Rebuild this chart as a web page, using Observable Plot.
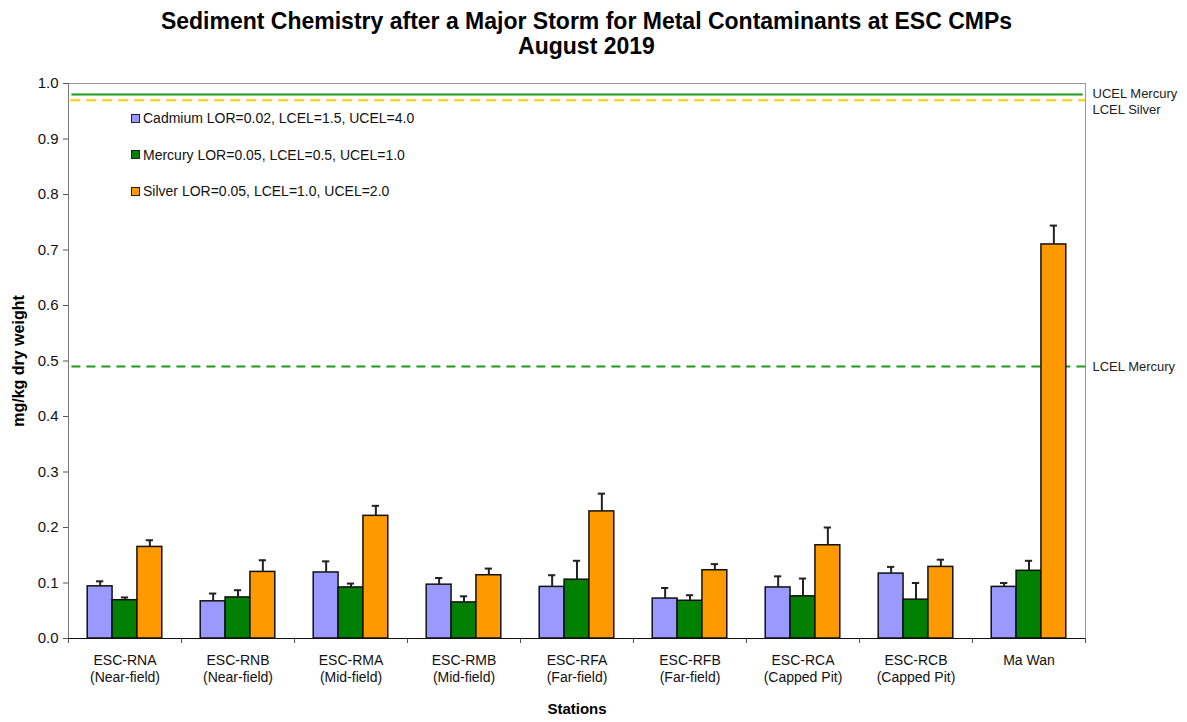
<!DOCTYPE html>
<html>
<head>
<meta charset="utf-8">
<script src="https://cdn.jsdelivr.net/npm/d3@7"></script>
<script src="https://cdn.jsdelivr.net/npm/@observablehq/plot@0.6"></script>
<style>
  body { margin: 0; background: #fff; font-family: Arial, "Liberation Sans", sans-serif; }
  #wrap { position: relative; width: 1187px; height: 722px; }
  #title { height: 60px; box-sizing: border-box; padding-top: 9px; text-align: center;
           font-weight: bold; font-size: 23px; line-height: 25px; color: #000; width: 1173px; }
  #legend { position: absolute; left: 131px; top: 109px; font-size: 14px; color: #111; }
  .item { display: flex; align-items: center; height: 18px; margin-bottom: 18.5px; }
  .sw { width: 7px; height: 7px; border: 1px solid #222; margin-right: 3px; }
</style>
</head>
<body>
<div id="wrap">
  <div id="title">Sediment Chemistry after a Major Storm for Metal Contaminants at ESC CMPs<br>August 2019</div>
  <div id="chart"></div>
  <div id="legend"></div>
</div>
<script>
// ---- data ----
const stations = ["ESC-RNA", "ESC-RNB", "ESC-RMA", "ESC-RMB", "ESC-RFA", "ESC-RFB", "ESC-RCA", "ESC-RCB", "Ma Wan"];
const stationNotes = ["(Near-field)", "(Near-field)", "(Mid-field)", "(Mid-field)", "(Far-field)", "(Far-field)", "(Capped Pit)", "(Capped Pit)", ""];
const metals = ["Cadmium", "Mercury", "Silver"];
const legendLabels = ["Cadmium LOR=0.02, LCEL=1.5, UCEL=4.0", "Mercury LOR=0.05, LCEL=0.5, UCEL=1.0", "Silver LOR=0.05, LCEL=1.0, UCEL=2.0"];
const metalColors = ["#9999FF", "#008000", "#FF9900"];

const cadmium    = [0.094, 0.067, 0.119, 0.097, 0.093, 0.072, 0.092, 0.117, 0.093];
const cadmiumErr = [0.009, 0.014, 0.020, 0.012, 0.021, 0.019, 0.020, 0.012, 0.007];
const mercury    = [0.069, 0.074, 0.092, 0.065, 0.106, 0.068, 0.076, 0.070, 0.122];
const mercuryErr = [0.005, 0.013, 0.007, 0.011, 0.034, 0.010, 0.032, 0.030, 0.018];
const silver     = [0.165, 0.120, 0.221, 0.114, 0.229, 0.123, 0.168, 0.129, 0.710];
const silverErr  = [0.012, 0.021, 0.018, 0.012, 0.032, 0.011, 0.032, 0.013, 0.034];

const guideNames  = ["UCEL Mercury", "LCEL Silver", "LCEL Mercury"];
const guideValues = [0.98, 0.97, 0.49];

const yTicks = [0, 0.1, 0.2, 0.3, 0.4, 0.5, 0.6, 0.7, 0.8, 0.9, 1.0];

// ---- build table ----
const seriesValues = [cadmium, mercury, silver];
const seriesErrs = [cadmiumErr, mercuryErr, silverErr];
const groupOffset = 0.17, barWidth = 0.22, capHalf = 0.032;
const rows = [];
stations.forEach((s, i) => {
  metals.forEach((m, k) => {
    const x1 = i + groupOffset + k * barWidth;
    rows.push({station: s, metal: m, value: seriesValues[k][i], err: seriesErrs[k][i],
               x1, x2: x1 + barWidth, xc: x1 + barWidth / 2});
  });
});
const guides = guideNames.map((name, i) => ({name, value: guideValues[i]}));
const guide = name => guides.filter(d => d.name === name);
const xEnd = stations.length;

const plot = Plot.plot({
  width: 1187,
  height: 662,
  marginLeft: 68,
  marginRight: 102,
  marginTop: 23,
  marginBottom: 84,
  style: {fontFamily: "Arial, 'Liberation Sans', sans-serif", fontSize: "14px", color: "#111", background: "#fff"},
  x: {type: "linear", domain: [0, stations.length], axis: null},
  y: {domain: [0, 1], axis: null},
  color: {domain: metals, range: metalColors},
  marks: [
    Plot.frame({stroke: "#9a9a9a"}),
    Plot.ruleX([0], {stroke: "#777"}),
    // axes
    Plot.axisY(yTicks, {label: null, tickSize: 5, tickPadding: 5, tickFormat: d3.format(".1f"), fontSize: 15, stroke: "#555", fill: "#111"}),
    Plot.axisX(d3.range(stations.length + 1), {label: null, tickSize: 5, tickFormat: () => "", stroke: "#555"}),
    Plot.axisX(d3.range(stations.length).map(i => i + 0.5), {
      label: null, tickSize: 0, tickPadding: 14, fontSize: 14, lineHeight: 1.22, fill: "#111",
      tickFormat: v => { const i = Math.floor(v); return stationNotes[i] ? stations[i] + "\n" + stationNotes[i] : stations[i]; }
    }),
    // guide lines
    Plot.ruleY(guide("LCEL Silver"), {y: "value", x1: 0.02, x2: xEnd, stroke: "#FFCC00", strokeWidth: 2, strokeDasharray: "10,6"}),
    Plot.ruleY(guide("UCEL Mercury"), {y: "value", x1: 0.03, x2: xEnd - 0.02, stroke: "#1f9a1f", strokeWidth: 2}),
    Plot.ruleY(guide("LCEL Mercury"), {y: "value", x1: 0.03, x2: xEnd + 0.045, stroke: "#1f9a1f", strokeWidth: 2, strokeDasharray: "9,6"}),
    Plot.text(guide("UCEL Mercury"), {x: () => xEnd, y: "value", text: "name", textAnchor: "start", dx: 7, dy: -1, fontSize: 13, fill: "#222"}),
    Plot.text(guide("LCEL Silver"), {x: () => xEnd, y: "value", text: "name", textAnchor: "start", dx: 7, dy: 10, fontSize: 13, fill: "#222"}),
    Plot.text(guide("LCEL Mercury"), {x: () => xEnd, y: "value", text: "name", textAnchor: "start", dx: 7, dy: 0, fontSize: 13, fill: "#222"}),
    // bars
    Plot.rectY(rows, {x1: "x1", x2: "x2", y1: 0, y2: "value", fill: "metal", stroke: "#111", strokeWidth: 1.5}),
    // error bars
    Plot.ruleX(rows, {x: "xc", y1: "value", y2: d => d.value + d.err, stroke: "#222", strokeWidth: 2}),
    Plot.ruleY(rows, {y: d => d.value + d.err, x1: d => d.xc - capHalf, x2: d => d.xc + capHalf, stroke: "#222", strokeWidth: 2}),
    Plot.ruleY([0], {stroke: "#111", strokeWidth: 1}),
    // axis titles
    Plot.text(["Stations"], {frameAnchor: "bottom", textAnchor: "middle", dy: 75, fontWeight: "bold", fontSize: 15, fill: "#000"}),
    Plot.text(["mg/kg dry weight"], {frameAnchor: "left", textAnchor: "middle", dx: -50, rotate: -90, fontWeight: "bold", fontSize: 16, fill: "#000"})
  ]
});
document.getElementById("chart").appendChild(plot);

// legend (HTML, inside the plot area)
const legend = document.getElementById("legend");
metals.forEach((m, k) => {
  const item = document.createElement("div");
  item.className = "item";
  const sw = document.createElement("div");
  sw.className = "sw";
  sw.style.background = metalColors[k];
  const t = document.createElement("span");
  t.textContent = legendLabels[k];
  item.appendChild(sw);
  item.appendChild(t);
  legend.appendChild(item);
});
</script>
</body>
</html>
